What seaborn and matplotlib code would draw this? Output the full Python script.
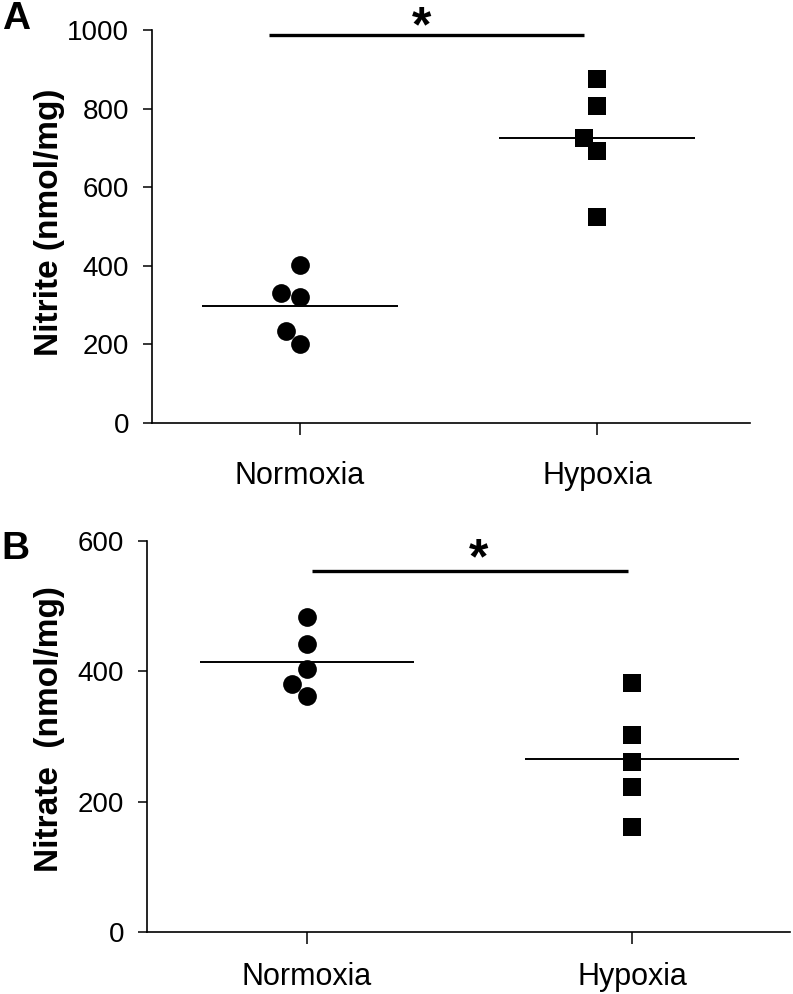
import matplotlib
matplotlib.use("Agg")
import matplotlib.pyplot as plt
import seaborn as sns
import pandas as pd
import numpy as np

# ---- data ----
categories = ["Normoxia", "Hypoxia"]
nitrite_normoxia = [402, 331, 321, 234, 201]
nitrite_hypoxia = [875, 807, 725, 692, 524]
nitrate_normoxia = [483, 442, 403, 380, 362]
nitrate_hypoxia = [382, 302, 261, 222, 161]
nitrite_ticks = [0, 200, 400, 600, 800, 1000]
nitrate_ticks = [0, 200, 400, 600]

sns.set_style("ticks", {"text.color": "black", "axes.labelcolor": "black",
                        "xtick.color": "black", "ytick.color": "black",
                        "axes.edgecolor": "black"})
plt.rcParams["font.family"] = ["Liberation Sans", "DejaVu Sans"]

fig = plt.figure(figsize=(7.93, 9.94), dpi=100)
axA = fig.add_axes([152/793, 1-423/994, (750-152)/793, (423-30)/994])
axB = fig.add_axes([147/793, 1-932/994, (790-147)/793, (932-541)/994])

markers = {"Normoxia": "o", "Hypoxia": "s"}
sizes = {"Normoxia": 13.5, "Hypoxia": 13}


def panel(ax, normo, hypo, ticks, ylim, xlim, ylabel, label_xy, xpad,
          bar_x, bar_y, star_xy):
    df = pd.DataFrame({
        "group": ["Normoxia"] * len(normo) + ["Hypoxia"] * len(hypo),
        "value": list(normo) + list(hypo),
    })
    for g in categories:
        sub = df[df["group"] == g]
        sns.swarmplot(data=sub, x="group", y="value", order=categories,
                      marker=markers[g], size=sizes[g], color="black",
                      linewidth=0, ax=ax, clip_on=False, zorder=3)
    for i, g in enumerate(categories):
        m = df.loc[df["group"] == g, "value"].mean()
        ax.hlines(m, i - 0.33, i + 0.33, color="black", lw=1.4, zorder=2)
    ax.set_ylim(*ylim)
    ax.set_xlim(*xlim)
    ax.set_yticks(ticks)
    ax.set_yticklabels([str(t) for t in ticks], fontsize=20, color="black")
    ax.set_xticks(range(len(categories)))
    ax.set_xticklabels(categories, fontsize=22, color="black")
    ax.tick_params(axis="y", length=6.5, width=1.1, pad=10, color="black")
    ax.tick_params(axis="x", length=8.5, width=1.1, pad=xpad, color="black")
    sns.despine(ax=ax)
    for s in ["left", "bottom"]:
        ax.spines[s].set_linewidth(1.2)
        ax.spines[s].set_color("black")
    ax.set_xlabel("")
    ax.set_ylabel(ylabel, fontsize=24, fontweight="bold", color="black")
    ax.yaxis.set_label_coords(*label_xy)
    ax.plot(bar_x, [bar_y, bar_y], color="black", lw=2.4, clip_on=False,
            solid_capstyle="butt")
    ax.text(star_xy[0], star_xy[1], "*", fontsize=36, fontweight="bold",
            ha="center", va="center", clip_on=False, color="black")


panel(axA, nitrite_normoxia, nitrite_hypoxia, nitrite_ticks, (0, 1000),
      ((152-300)/297, (750-300)/297), "Nitrite (nmol/mg)",
      (-0.145, 0.51), 19, [(269-300)/297, (584-300)/297], 987,
      ((422-300)/297, 1003))
panel(axB, nitrate_normoxia, nitrate_hypoxia, nitrate_ticks, (0, 600),
      ((147-307)/325, (790-307)/325), "Nitrate  (nmol/mg)",
      (-0.127, 0.52), 13, [(312-307)/325, (628-307)/325], 554,
      ((479-307)/325, 570))

fig.text(0.002, 0.999, "A", fontsize=28, fontweight="bold", ha="left", va="top",
         color="black")
fig.text(0.002, 1-531/994, "B", fontsize=28, fontweight="bold", ha="left", va="top",
         color="black")

fig.savefig("out.png", dpi=100)
